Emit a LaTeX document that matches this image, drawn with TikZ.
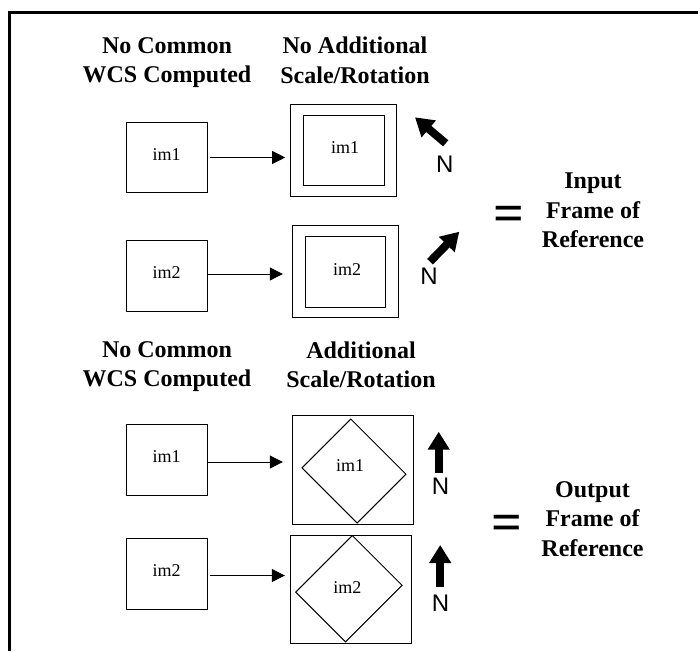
\documentclass[tikz,border=0pt]{standalone}
\usepackage{fontspec}
\setmainfont{Liberation Serif}
\setsansfont{Liberation Sans}
\usetikzlibrary{arrows.meta}
\begin{document}
\begin{tikzpicture}[x=1pt,y=-1pt,
  hdr/.style={font=\bfseries\fontsize{24}{29.3}\selectfont, align=center, inner sep=0pt, anchor=north},
  imbox/.style={draw, line width=1pt, minimum width=81pt, minimum height=70.5pt, inner sep=0pt},
  frm/.style={draw, line width=1pt, inner sep=0pt},
  lbl/.style={font=\fontsize{18}{18}\selectfont, inner sep=0pt},
  conn/.style={line width=1pt, -{Triangle[length=13pt,width=13pt]}},
  narrow/.style={line width=8pt, -{Triangle[length=18pt,width=21pt]}},
  nlab/.style={font=\sffamily\fontsize{24}{24}\selectfont, inner sep=0pt},
  eqsign/.style={font=\bfseries\fontsize{54}{54}\selectfont, inner sep=0pt, anchor=base},
  border/.style={line width=3pt}
]
\useasboundingbox (0,0) rectangle (698,651);

% outer frame (open at the bottom)
\coordinate (fb) at (9,651);
\coordinate (ftl) at (9,12);
\coordinate (ftr) at (700,12);
\draw[border] (fb) -- (ftl) -- (ftr);

% headers
\node[hdr] (h1) at (167,37) {No Common\\WCS Computed};
\node[hdr] (h2) at (355,37) {No Additional\\Scale/Rotation};
\node[hdr] (h3) at (167,341.5) {No Common\\WCS Computed};
\node[hdr] (h4) at (361,341.5) {Additional\\Scale/Rotation};

% left image boxes
\node[imbox] (b1) at (166.5,157.5) {};
\node[imbox] (b2) at (166.5,276) {};
\node[imbox] (b3) at (166.5,460) {};
\node[imbox] (b4) at (166.5,574) {};
\node[lbl] (t1) at ([yshift=3pt]b1.center) {im1};
\node[lbl] (t2) at ([yshift=3pt]b2.center) {im2};
\node[lbl] (t3) at ([yshift=3pt]b3.center) {im1};
\node[lbl] (t4) at ([yshift=3pt]b4.center) {im2};

% top: no additional scale/rotation
\node[frm, minimum width=106.4pt, minimum height=92pt] (f1) at (343.5,150.7) {};
\node[frm, minimum width=81pt, minimum height=70.4pt] (i1) at (343.8,150.5) {};
\node[lbl] (u1) at (345,148) {im1};
\node[frm, minimum width=106pt, minimum height=92pt] (f2) at (345.3,271.7) {};
\node[frm, minimum width=80.7pt, minimum height=70.4pt] (i2) at (345.6,271.8) {};
\node[lbl] (u2) at (347,270) {im2};

% bottom: additional scale/rotation
\node[frm, minimum width=121pt, minimum height=108.6pt] (f3) at (352.8,470) {};
\node[frm, rotate=-45, minimum width=78pt, minimum height=69pt] (d1) at (354,471) {};
\node[lbl] (u3) at (350,466) {im1};
\node[frm, minimum width=121.4pt, minimum height=108.3pt] (f4) at (351,589.2) {};
\node[frm, rotate=-45, minimum width=70.4pt, minimum height=80pt] (d2) at (348.9,588.7) {};
\node[lbl] (u4) at (347.3,587.3) {im2};

% connectors
\draw[conn, shorten <=2pt, shorten >=4.6pt] (b1.east) -- (b1.east -| f1.west);
\draw[conn, shorten >=9pt] ([yshift=2pt]b2.east) -- ([yshift=2pt]b2.east -| f2.west);
\draw[conn, shorten >=9pt] ([yshift=-2pt]b3.east) -- ([yshift=-2pt]b3.east -| f3.west);
\draw[conn, shorten <=2pt, shorten >=5pt] ([yshift=-1.5pt]b4.east) -- ([yshift=-1.5pt]b4.east -| f4.west);

% north arrows
\coordinate (n1s) at (445.7,143.3); \coordinate (n1e) at (415,117.3);
\coordinate (n2s) at (430,261.7);   \coordinate (n2e) at (459.3,231.7);
\coordinate (n3s) at (438.7,472.7); \coordinate (n3e) at (438.7,431.7);
\coordinate (n4s) at (440.2,586.7); \coordinate (n4e) at (440.2,545);
\draw[narrow] (n1s) -- (n1e);
\draw[narrow] (n2s) -- (n2e);
\draw[narrow] (n3s) -- (n3e);
\draw[narrow] (n4s) -- (n4e);
\node[nlab] (N1) at (444.7,163.8) {N};
\node[nlab] (N2) at (429,275.8) {N};
\node[nlab] (N3) at (440.5,486.7) {N};
\node[nlab] (N4) at (440.5,603.3) {N};

% equals and frame labels
\node[eqsign] (e1) at (509,231) {=};
\node[eqsign] (e2) at (506.7,540.3) {=};
\node[hdr] (r1) at (593,173) {Input\\Frame of\\Reference};
\node[hdr] (r2) at (592.5,481.5) {Output\\Frame of\\Reference};
\end{tikzpicture}
\end{document}
